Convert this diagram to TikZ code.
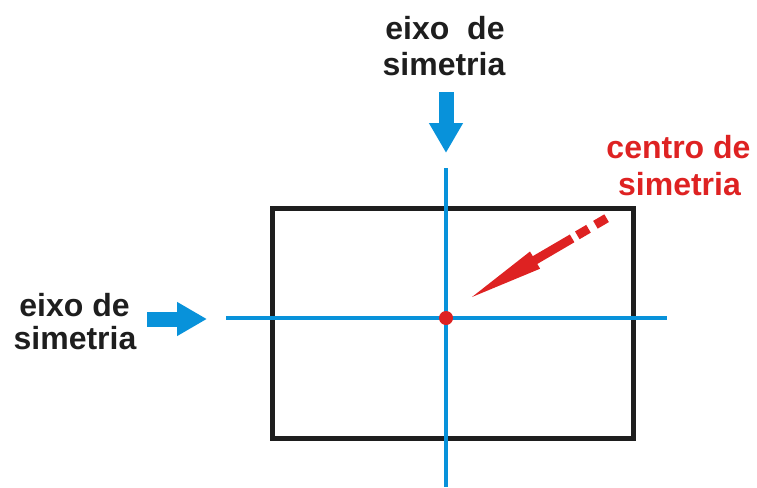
\documentclass[tikz,border=0pt]{standalone}
\usepackage{fontspec}
\setmainfont{Liberation Sans}
\usetikzlibrary{arrows.meta}
\definecolor{axisblue}{RGB}{8,146,218}
\definecolor{centred}{RGB}{222,34,34}
\definecolor{txtblack}{RGB}{30,30,30}
\tikzset{
  lbl/.style={font=\fontsize{32}{38}\selectfont\bfseries, inner sep=0pt, anchor=base},
  axisline/.style={axisblue, line width=4.5pt},
  bluearrow/.style={axisblue, line width=15pt, -{Triangle[length=30pt,width=32pt]}},
  rectframe/.style={draw=txtblack, line width=5pt},
}
\begin{document}
\begin{tikzpicture}[x=1pt,y=-1pt]
\useasboundingbox (0,0) rectangle (757,487);
% rectangle
\node[rectframe, minimum width=360.5pt, minimum height=230pt, inner sep=0pt, outer sep=0pt] (rect) at (452.75,323.5) {};
% axes
\coordinate (vtop) at (446,168);
\coordinate (vbot) at (446,487);
\coordinate (hleft) at (226,318);
\coordinate (hright) at (667,318);
\draw[axisline] (vtop) -- (vbot);
\draw[axisline] (hleft) -- (hright);
% centre dot
\fill[centred] (446,318) circle (7pt);
\coordinate (ctr) at (446,318);
% top label and arrow
\node[lbl, txtblack] (t1) at (445,40) {eixo\ \ de};
\node[lbl, txtblack] (t2) at (444,75) {simetria};
\coordinate (ta0) at (446,92);
\coordinate (ta1) at (446,153);
\draw[bluearrow] (ta0) -- (ta1);
% left label and arrow
\node[lbl, txtblack] (l1) at (74.5,316) {eixo de};
\node[lbl, txtblack] (l2) at (75,349) {simetria};
\coordinate (la0) at (147,319);
\coordinate (la1) at (207,319);
\draw[bluearrow] (la0) -- (la1);
% centre label
\node[lbl, centred] (c1) at (678.5,158) {centro de};
\node[lbl, centred] (c2) at (679.5,195) {simetria};
% red arrow
\coordinate (rtip) at (472,297);
\coordinate (rhb) at (532.4,261.6);
\coordinate (rtail) at (606.6,218.2);
\draw[centred, line width=9pt, dash pattern=on 46pt off 6pt on 13pt off 8pt on 13pt] (rhb) -- (rtail);
\fill[centred] (rtip) -- (540.1,268.7) -- (530.0,251.5) -- cycle;
\end{tikzpicture}
\end{document}
